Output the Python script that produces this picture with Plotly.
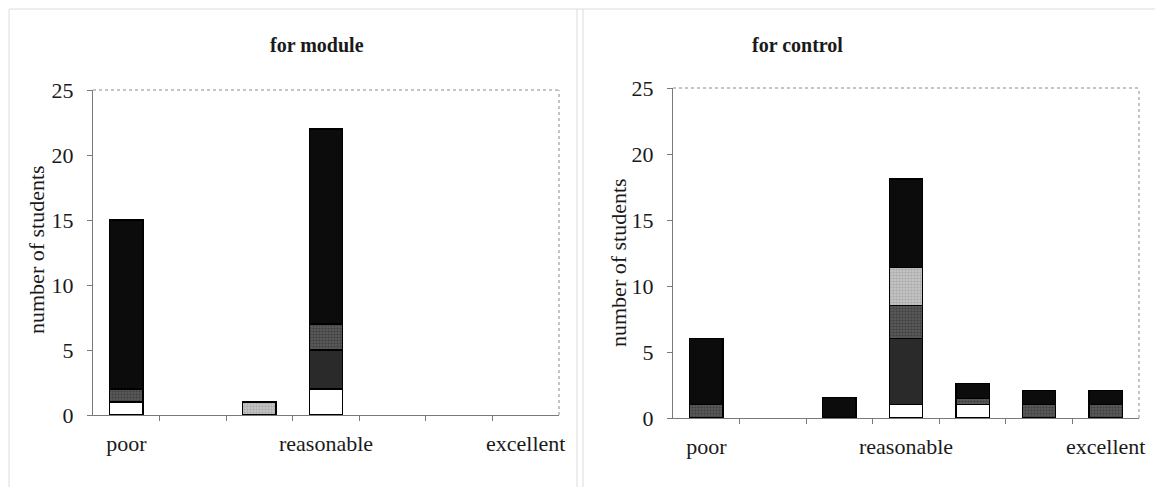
import plotly.graph_objects as go

# ---- data ----
positions = [1, 2, 3, 4, 5, 6, 7]
label_positions = [1, 4, 7]
label_text = ["poor", "reasonable", "excellent"]

series_names = ["series 1", "series 2", "series 3", "series 4", "series 5"]

module_white = [1, 0, 0, 2, 0, 0, 0]
module_dark = [0, 0, 0, 3, 0, 0, 0]
module_dotted = [1, 0, 0, 2, 0, 0, 0]
module_light = [0, 0, 1, 0, 0, 0, 0]
module_black = [13, 0, 0, 15, 0, 0, 0]

control_white = [0, 0, 0, 1.0, 1.0, 0, 0]
control_dark = [0, 0, 0, 5.0, 0, 0, 0]
control_dotted = [1.0, 0, 0, 2.5, 0.5, 1.0, 1.0]
control_light = [0, 0, 0, 2.9, 0, 0, 0]
control_black = [5.0, 0, 1.55, 6.7, 1.1, 1.1, 1.1]

y_ticks = [0, 5, 10, 15, 20, 25]

# ---- styles ----
FONT = "Liberation Serif"
TXT = "#1a1a1a"
styles = [
    dict(color="#ffffff"),
    dict(color="#2a2a2a"),
    dict(color="#4e4e4e", pattern=dict(shape=".", fgcolor="#222222", bgcolor="#5a5a5a", size=3, solidity=0.4)),
    dict(color="#b5b5b5", pattern=dict(shape=".", fgcolor="#8a8a8a", bgcolor="#c4c4c4", size=3, solidity=0.4)),
    dict(color="#0c0c0c"),
]

fig = go.Figure()


def nz(vals):
    return [v if v else None for v in vals]


module_sets = [module_white, module_dark, module_dotted, module_light, module_black]
control_sets = [control_white, control_dark, control_dotted, control_light, control_black]

for axis_suffix, sets in (("", module_sets), ("2", control_sets)):
    for name, vals, st in zip(series_names, sets, styles):
        marker = dict(color=st["color"], line=dict(color="#000000", width=1.2))
        if "pattern" in st:
            marker["pattern"] = st["pattern"]
        fig.add_trace(go.Bar(
            x=positions, y=nz(vals), name=name, width=0.5,
            marker=marker, showlegend=False,
            xaxis="x" + axis_suffix, yaxis="y" + axis_suffix,
        ))

# page body has an 8px default margin; work in window coordinates
OFF = 8
W, H = 1163 - OFF, 495 - OFF


def px(x):
    return (x - OFF) / W


def py(y):
    return 1 - (y - OFF) / H


def xd(a, b):
    return [px(a), px(b)]


def yd(top, bottom):
    return [py(bottom), py(top)]


xaxis_common = dict(
    range=[0.5, 7.5], tickmode="array", tickvals=label_positions, ticktext=label_text,
    ticks="", showline=True, linecolor="#7a7a7a", linewidth=1, showgrid=False, zeroline=False,
    tickfont=dict(family=FONT, size=22, color=TXT), ticklabelstandoff=9,
    minor=dict(tickmode="array", tickvals=[1.5, 2.5, 3.5, 4.5, 5.5, 6.5],
               ticks="outside", ticklen=5, tickcolor="#7a7a7a", tickwidth=1),
    automargin=False, fixedrange=True,
)
yaxis_common = dict(
    range=[0, 25], tickmode="array", tickvals=y_ticks, ticks="outside", ticklen=5,
    tickcolor="#7a7a7a", showline=True, linecolor="#7a7a7a", linewidth=1, showgrid=False,
    zeroline=False, tickfont=dict(family=FONT, size=22, color=TXT), ticklabelstandoff=9,
    automargin=False, fixedrange=True,
)

fig.update_layout(
    width=W, height=H,
    margin=dict(l=0, r=0, t=0, b=0),
    paper_bgcolor="white", plot_bgcolor="white",
    barmode="stack", bargap=0.5,
    font=dict(family=FONT, color=TXT),
    xaxis=dict(domain=xd(93, 559), anchor="y", **xaxis_common),
    yaxis=dict(domain=yd(90, 415), anchor="x", **yaxis_common),
    xaxis2=dict(domain=xd(673, 1139), anchor="y2", **xaxis_common),
    yaxis2=dict(domain=yd(88, 418), anchor="x2", **yaxis_common),
)

# dotted top/right frame of each plot area
for xr, yr in (("x domain", "y domain"), ("x2 domain", "y2 domain")):
    fig.add_shape(type="line", xref=xr, yref=yr, x0=0, x1=1, y0=1, y1=1,
                  line=dict(color="#8a8a8a", width=1, dash="dot"))
    fig.add_shape(type="line", xref=xr, yref=yr, x0=1, x1=1, y0=0, y1=1,
                  line=dict(color="#8a8a8a", width=1, dash="dot"))

# faint outer chart-area borders
faint = dict(color="#dcdcdc", width=1)
for x0, y0, x1, y1 in ((9, 9, 1160, 9), (9, 9, 9, 487), (577, 9, 577, 487),
                       (583, 9, 583, 487), (1158, 9, 1158, 487)):
    fig.add_shape(type="line", xref="paper", yref="paper",
                  x0=px(x0), x1=px(x1), y0=py(y0), y1=py(y1), line=faint)

# titles
for txt, cx in (("for module", 317), ("for control", 797)):
    fig.add_annotation(text="<b>" + txt + "</b>", x=px(cx), y=py(45), xref="paper", yref="paper",
                       showarrow=False, xanchor="center", yanchor="middle",
                       font=dict(family=FONT, size=20, color=TXT))

# y-axis titles
for cx, cy in ((37, 250), (618, 263)):
    fig.add_annotation(text="number of students", x=px(cx), y=py(cy), xref="paper", yref="paper",
                       showarrow=False, textangle=-90, xanchor="center", yanchor="middle",
                       font=dict(family=FONT, size=22, color=TXT))

fig.write_html("out.html")
